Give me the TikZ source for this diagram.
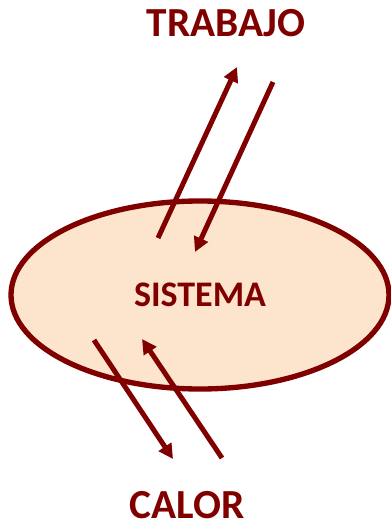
\documentclass[tikz,border=0pt]{standalone}
\usepackage{fontspec}
\setmainfont{Carlito}
\usetikzlibrary{shapes,arrows.meta,positioning}
\definecolor{sysred}{HTML}{800000}
\definecolor{sysfill}{HTML}{FDE4CC}

\begin{document}
\begin{tikzpicture}[x=0.75pt, y=-0.75pt,
        system/.style={ellipse, draw=sysred, line width=4pt, fill=sysfill, inner sep=0pt, minimum width=283.5pt, minimum height=141pt, text=sysred, font=\bfseries\fontsize{27}{32}\selectfont},
        caption/.style={text=sysred, inner sep=0pt, font=\bfseries\fontsize{31}{37}\selectfont},
        flow/.style={draw=sysred, line width=3.75pt, -{Triangle[length=11pt,width=11pt]}}]

        \useasboundingbox (0,0) rectangle (390,527);

        \node[system] (sys) at (200,295) {SISTEMA};
        \node[caption] (work) at (226,23) {TRABAJO};
        \node[caption] (heat) at (187,505) {CALOR};

        % trabajo
        \coordinate (workout) at (158,238);
        \coordinate (workouttip) at (237,67);
        \coordinate (workin) at (273,82);
        \coordinate (workintip) at (195,252);
        \draw[flow] (workout) -- (workouttip);
        \draw[flow] (workin) -- (workintip);

        % calor
        \coordinate (heatout) at (94,340);
        \coordinate (heatouttip) at (173,459);
        \coordinate (heatin) at (222,458);
        \coordinate (heatintip) at (142,339);
        \draw[flow] (heatout) -- (heatouttip);
        \draw[flow] (heatin) -- (heatintip);

    \end{tikzpicture}
\end{document}
